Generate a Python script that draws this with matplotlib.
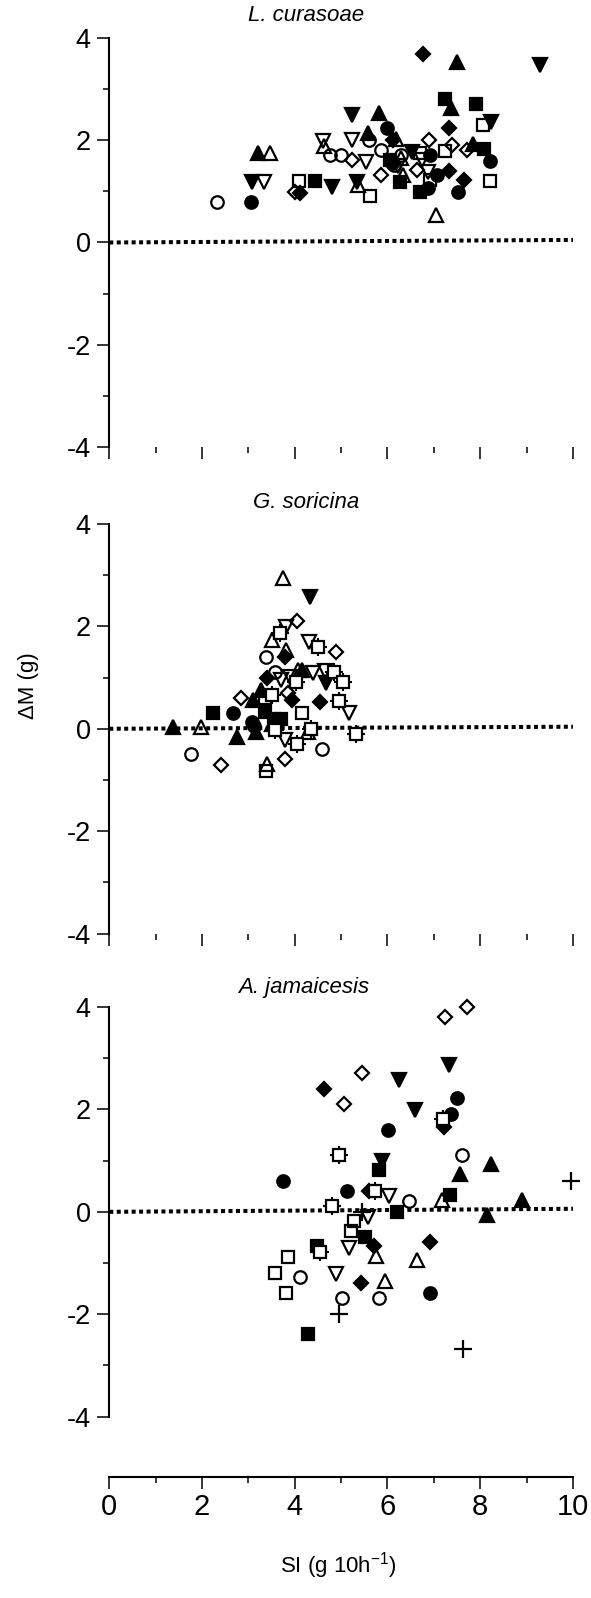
import numpy as np
import matplotlib.pyplot as plt
from matplotlib.ticker import MultipleLocator

plt.rcParams['font.family'] = ['Liberation Sans', 'DejaVu Sans']
plt.rcParams['axes.unicode_minus'] = False
plt.rcParams['mathtext.default'] = 'regular'

# symbol codes: f* filled, o* open, xs = open square with cross, + = plain cross
# --- L. curasoae ---
lc_sym = ['oo', 'fo', 'f^', 'o^', 'fv', 'ov', 'oD', 'fD', 'os', 'fs',
          'fv', 'ov', 'o^', 'oo', 'oo', 'oD', 'ov', 'fv', 'ov', 'fv',
          'o^', 'os', 'f^', 'oo', 'f^', 'oD', 'oo', 'fo', 'fD', 'o^',
          'fs', 'oo', 'oo', 'o^', 'o^', 'fs', 'ov', 'fv', 'os', 'ov',
          'fo', 'oD', 'ov', 'os', 'fs', 'fo', 'fo', 'oD', 'fD', 'f^',
          'fs', 'f^', 'fs', 'fD', 'os', 'oD', 'fD', 'o^', 'fo', 'fD',
          'oD', 'f^', 'fs', 'fo', 'os', 'fv', 'os', 'fv', 'fo']
lc_si = [2.32, 3.05, 3.21, 3.46, 3.07, 3.33, 4.01, 4.12, 4.10, 4.43,
         4.80, 4.60, 4.62, 4.77, 5.00, 5.24, 5.24, 5.24, 5.53, 5.35,
         5.37, 5.63, 5.59, 5.61, 5.81, 5.85, 5.85, 6.00, 6.12, 6.18,
         6.06, 6.14, 6.30, 6.30, 6.34, 6.26, 6.22, 6.53, 6.70, 6.75,
         6.91, 6.63, 6.87, 6.91, 6.70, 6.87, 7.07, 6.89, 6.76, 7.50,
         7.24, 7.37, 7.90, 7.32, 7.24, 7.40, 7.32, 7.05, 7.52, 7.64,
         7.72, 7.85, 8.09, 8.21, 8.07, 8.24, 8.21, 9.28, 6.10]
lc_dm = [0.80, 0.80, 1.74, 1.74, 1.19, 1.19, 0.98, 0.96, 1.20, 1.20,
         1.08, 1.98, 1.88, 1.71, 1.71, 1.61, 2.00, 2.49, 1.58, 1.18,
         1.12, 0.90, 2.13, 2.00, 2.52, 1.32, 1.80, 2.23, 2.00, 2.03,
         1.61, 1.51, 1.71, 1.66, 1.32, 1.19, 1.50, 1.77, 1.74, 1.61,
         1.71, 1.42, 1.38, 1.22, 0.99, 1.06, 1.32, 2.00, 3.68, 3.53,
         2.81, 2.62, 2.70, 2.23, 1.79, 1.90, 1.40, 0.54, 0.99, 1.22,
         1.80, 1.93, 1.82, 1.59, 2.29, 2.36, 1.20, 3.47, 1.55]
lc_fit = [0.0, 0.05]

# --- G. soricina ---
gs_sym = ['f^', 'o^', 'oo', 'oD', 'fs', 'fo', 'oD', 'fo', 'fo', 'f^',
          'f^', 'f^', 'f^', 'os', 'fs', 'fs', 'fs', 'xs', 'o^', 'os',
          'oo', 'oo', 'fD', 'o^', 'xs', 'ov', 'oD', 'o^', 'fv', 'fD',
          'o^', 'ov', 'ov', 'fD', 'oD', 'xs', 'ov', 'oD', 'os', 'o^',
          'f^', 'ov', 'xs', 'xs', 'o^', 'oo', 'fD', 'ov', 'xs', 'oD',
          'fv', 'xs', 'xs', 'xs', 'ov', 'xs', 'xs', 'o^', 'ov']
gs_si = [1.38, 1.98, 1.76, 2.42, 2.24, 2.66, 2.85, 3.07, 3.12, 2.76,
         3.17, 3.11, 3.28, 3.36, 3.36, 3.55, 3.70, 3.58, 3.41, 3.37,
         3.37, 3.58, 3.41, 3.52, 3.68, 3.82, 4.04, 3.74, 4.33, 3.78,
         3.82, 3.90, 3.70, 3.93, 3.86, 4.02, 3.78, 3.80, 4.15, 4.07,
         4.15, 4.39, 4.05, 4.35, 4.29, 4.58, 4.54, 4.31, 4.51, 4.88,
         4.68, 4.84, 5.04, 4.96, 5.16, 5.33, 3.52, 3.50, 4.65]
gs_dm = [0.04, 0.03, -0.50, -0.71, 0.30, 0.30, 0.61, 0.14, 0.05, -0.17,
         -0.06, 0.56, 0.76, 0.61, 0.33, 0.20, 0.20, -0.03, -0.68, -0.82,
         1.41, 1.10, 1.00, 1.73, 1.88, 1.98, 2.11, 2.94, 2.58, 1.41,
         1.54, 1.02, 0.95, 0.56, 0.69, 0.92, -0.22, -0.60, 0.30, 1.15,
         1.15, 1.09, -0.29, 0.00, -0.07, -0.40, 0.53, 1.70, 1.60, 1.50,
         0.90, 1.11, 0.92, 0.54, 0.30, -0.10, 0.66, 0.10, 1.12]
gs_fit = [0.0, 0.04]

# --- A. jamaicesis ---
aj_sym = ['oD', 'oD', 'oD', 'oD', 'fD', 'fv', 'fv', 'fv', 'fo', 'fo',
          'xs', 'fD', 'fo', 'xs', 'oo', 'fv', 'fs', 'fo', 'f^', 'f^',
          '+', 'fo', 'fD', 'xs', 'ov', 'oo', 'o^', 'fs', 'f^', 'f^',
          'xs', '+', 'ov', 'fs', 'os', 'os', 'fs', 'fD', 'o^', 'fD',
          'o^', 'fs', 'xs', 'ov', 'os', 'os', 'oo', 'os', 'ov', 'fD',
          'o^', 'oo', '+', 'oo', 'fo', 'fs', '+']
aj_si = [7.25, 7.72, 5.45, 5.06, 4.63, 6.24, 7.32, 6.59, 7.50, 7.37,
         7.20, 7.21, 6.02, 4.96, 7.60, 5.89, 5.81, 3.74, 7.56, 8.23,
         9.96, 5.12, 5.61, 5.73, 6.03, 6.46, 7.17, 7.34, 8.89, 8.15,
         4.80, 5.45, 5.57, 6.20, 5.27, 5.22, 5.51, 5.71, 5.75, 6.91,
         6.64, 4.47, 4.55, 5.18, 3.86, 3.58, 4.12, 3.82, 4.89, 5.43,
         5.95, 5.02, 4.96, 5.81, 6.91, 4.28, 7.62]
aj_dm = [3.80, 4.00, 2.71, 2.10, 2.39, 2.57, 2.87, 1.98, 2.22, 1.92,
         1.82, 1.66, 1.60, 1.11, 1.11, 0.99, 0.81, 0.61, 0.73, 0.93,
         0.61, 0.41, 0.41, 0.41, 0.30, 0.21, 0.24, 0.32, 0.24, -0.06,
         0.12, 0.00, -0.10, 0.00, -0.18, -0.38, -0.49, -0.67, -0.87, -0.58,
         -0.95, -0.67, -0.78, -0.71, -0.89, -1.19, -1.28, -1.58, -1.21, -1.39,
         -1.36, -1.68, -2.00, -1.68, -1.58, -2.38, -2.68]
aj_fit = [0.0, 0.06]

fit_x = [0, 10]

# marker look for each symbol code
STYLES = {
    'fo': dict(marker='o', ms=9, mfc='black'),
    'oo': dict(marker='o', ms=9, mfc='none'),
    'f^': dict(marker='^', ms=9.5, mfc='black'),
    'o^': dict(marker='^', ms=9.5, mfc='none'),
    'fv': dict(marker='v', ms=9.5, mfc='black'),
    'ov': dict(marker='v', ms=9.5, mfc='none'),
    'fs': dict(marker='s', ms=8, mfc='black'),
    'os': dict(marker='s', ms=8, mfc='none'),
    'fD': dict(marker='D', ms=7.5, mfc='black'),
    'oD': dict(marker='D', ms=7.5, mfc='none'),
    '+': dict(marker='+', ms=12.5),
}

panels = [
    ('L. curasoae', lc_sym, lc_si, lc_dm, lc_fit, 0.7201, (4.24, 4.43)),
    ('G. soricina', gs_sym, gs_si, gs_dm, gs_fit, 0.4158, (4.24, 4.41)),
    ('A. jamaicesis', aj_sym, aj_si, aj_dm, aj_fit, 0.1135, (4.2, 4.39)),
]

fig = plt.figure(figsize=(5.91, 15.98), dpi=100)

for i, (name, sym, si, dm, fit, bottom, title_xy) in enumerate(panels):
    ax = fig.add_axes([0.1849, bottom, 0.7846, 0.2563])
    sym = np.array(sym)
    si = np.array(si)
    dm = np.array(dm)

    ax.plot(fit_x, fit, color='black', lw=2.9, dashes=(1.0, 0.85),
            dash_capstyle='butt', clip_on=False, zorder=1)

    for code in np.unique(sym):
        sel = sym == code
        if code == 'xs':
            ax.plot(si[sel], dm[sel], ls='none', marker='+', ms=12.5, mew=1.5,
                    color='black', clip_on=False, zorder=3)
            ax.plot(si[sel], dm[sel], ls='none', marker='s', ms=8, mew=1.6,
                    mfc='white', mec='black', clip_on=False, zorder=3)
        else:
            ax.plot(si[sel], dm[sel], ls='none', mew=1.6, mec='black',
                    color='black', clip_on=False, zorder=3, **STYLES[code])

    ax.set_xlim(0, 10)
    ax.set_ylim(-4, 4)
    ax.xaxis.set_major_locator(MultipleLocator(2))
    ax.xaxis.set_minor_locator(MultipleLocator(1))
    ax.yaxis.set_major_locator(MultipleLocator(2))
    ax.yaxis.set_minor_locator(MultipleLocator(1))

    for side in ['top', 'right']:
        ax.spines[side].set_visible(False)
    ax.spines['left'].set_linewidth(1.5)
    ax.spines['bottom'].set_linewidth(1.5)

    ax.tick_params(which='major', direction='out', length=8.5, width=1.1,
                   labelsize=19.5, pad=5)
    ax.tick_params(which='minor', direction='out', length=4.5, width=1.1)

    if i < 2:
        ax.spines['bottom'].set_visible(False)
        ax.tick_params(axis='x', which='both', labelbottom=False)
    else:
        ax.spines['bottom'].set_position(('outward', 43.4))
        ax.tick_params(axis='x', which='major', labelsize=21, pad=3)

    ax.text(title_xy[0], title_xy[1], name, style='italic', fontsize=16,
            ha='center', va='center', clip_on=False)

fig.text(28.5 / 591, 1 - 686 / 1598, u'\u0394M (g)', rotation=90,
         fontsize=16, ha='center', va='center')
fig.text(338 / 591, 1 - 1566 / 1598, 'SI (g 10h$^{-1}$)', fontsize=16,
         ha='center', va='center')

fig.savefig('out.png', dpi=100)
